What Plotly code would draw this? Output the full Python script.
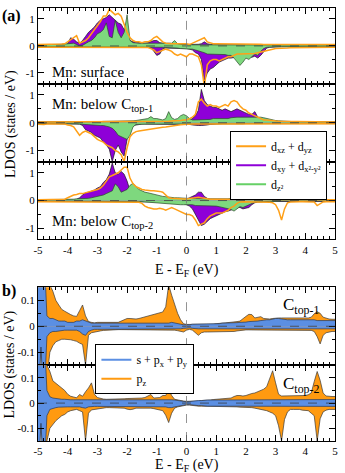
import numpy as np
import plotly.graph_objects as go

# ---------------- data ----------------
ENERGY = np.round(np.linspace(-5, 5, 101), 2)   # E - E_F grid (eV)
FERMI = 0.0

X_TICKS = [-5, -4, -3, -2, -1, 0, 1, 2, 3, 4, 5]
X_TICK_TEXT = ["-5", "-4", "-3", "-2", "-1", "0", "1", "2", "3", "4", "5"]
YA_TICKS = [-1, 0, 1]
YA_TICK_TEXT = ["-1", "0", "1"]
YB_TICKS = [-0.1, 0, 0.1]
YB_TICK_TEXT = ["-0.1", "0", "0.1"]

# ---- (a) Mn: surface
A1_PURPLE_UP = [
0.02,0.03,0.03,0.03,0.03,0.03,0.03,0.04,0.04,0.05,
0.08,0.30,0.25,0.15,0.10,0.20,0.35,0.50,0.60,0.70,
0.85,0.95,1.00,1.05,1.15,1.05,0.95,0.85,0.80,0.60,
0.30,0.20,0.15,0.15,0.12,0.10,0.10,0.12,0.15,0.20,
0.20,0.12,0.10,0.08,0.06,0.06,0.05,0.05,0.04,0.04,
0.04,0.05,0.05,0.05,0.06,0.08,0.15,0.08,0.05,0.04,
0.04,0.04,0.04,0.04,0.04,0.04,0.04,0.04,0.04,0.04,
0.04,0.04,0.03,0.03,0.03,0.03,0.03,0.03,0.03,0.03,
0.03,0.03,0.03,0.03,0.03,0.03,0.03,0.03,0.03,0.03,
0.03,0.03,0.03,0.03,0.03,0.03,0.03,0.03,0.03,0.03,
0.03]
A1_PURPLE_DN = [
-0.03,-0.03,-0.03,-0.03,-0.03,-0.03,-0.03,-0.03,-0.03,-0.03,
-0.03,-0.03,-0.03,-0.03,-0.03,-0.03,-0.03,-0.03,-0.03,-0.03,
-0.03,-0.03,-0.03,-0.03,-0.03,-0.03,-0.03,-0.03,-0.03,-0.03,
-0.03,-0.03,-0.03,-0.03,-0.03,-0.03,-0.03,-0.04,-0.05,-0.20,
-0.35,-0.30,-0.10,-0.08,-0.08,-0.08,-0.08,-0.08,-0.08,-0.08,
-0.10,-0.12,-0.15,-0.25,-0.30,-0.50,-1.30,-1.00,-0.85,-0.80,
-0.70,-0.60,-0.55,-0.50,-0.45,-0.45,-0.42,-0.40,-0.40,-0.38,
-0.36,-0.40,-0.42,-0.38,-0.45,-0.35,-0.20,-0.08,-0.05,-0.04,
-0.03,-0.03,-0.03,-0.03,-0.03,-0.03,-0.03,-0.03,-0.03,-0.03,
-0.03,-0.03,-0.03,-0.03,-0.03,-0.03,-0.03,-0.03,-0.03,-0.03,
-0.03]
A1_GREEN_UP = [
0.04,0.04,0.04,0.05,0.05,0.05,0.05,0.06,0.06,0.07,
0.08,0.10,0.10,0.05,0.00,0.02,0.10,0.15,0.20,0.30,
0.45,0.50,0.60,0.85,0.35,0.30,0.95,0.50,0.30,0.50,
1.15,0.20,0.12,0.10,0.10,0.10,0.10,0.10,0.10,0.12,
0.12,0.10,0.10,0.10,0.10,0.10,0.20,0.08,0.06,0.05,
0.05,0.04,0.04,0.04,0.04,0.04,0.04,0.04,0.04,0.04,
0.03,0.03,0.03,0.03,0.03,0.03,0.03,0.03,0.03,0.03,
0.03,0.03,0.03,0.03,0.03,0.03,0.03,0.03,0.03,0.03,
0.03,0.03,0.03,0.03,0.03,0.03,0.03,0.03,0.03,0.03,
0.03,0.03,0.03,0.03,0.03,0.03,0.03,0.03,0.03,0.03,
0.03]
A1_GREEN_DN = [
-0.03,-0.03,-0.03,-0.03,-0.03,-0.03,-0.03,-0.03,-0.03,-0.03,
-0.03,-0.03,-0.03,-0.03,-0.03,-0.03,-0.03,-0.03,-0.03,-0.03,
-0.03,-0.03,-0.03,-0.03,-0.03,-0.03,-0.03,-0.03,-0.03,-0.03,
-0.03,-0.03,-0.03,-0.03,-0.03,-0.03,-0.03,-0.03,-0.03,-0.03,
-0.04,-0.05,-0.05,-0.06,-0.06,-0.08,-0.08,-0.08,-0.10,-0.10,
-0.10,-0.12,-0.12,-0.15,-0.18,-0.20,-0.25,-0.30,-0.30,-0.30,
-0.30,-0.30,-0.32,-0.32,-0.35,-0.35,-0.45,-0.60,-0.72,-0.60,
-0.45,-0.50,-0.40,-0.30,-0.35,-0.20,-0.10,-0.05,-0.04,-0.03,
-0.03,-0.03,-0.03,-0.03,-0.03,-0.03,-0.03,-0.03,-0.03,-0.03,
-0.03,-0.03,-0.03,-0.03,-0.03,-0.03,-0.03,-0.03,-0.03,-0.03,
-0.03]
A1_ORANGE_UP = [
0.05,0.05,0.05,0.05,0.05,0.05,0.06,0.06,0.07,0.08,
0.15,0.25,0.30,0.38,0.10,0.15,0.20,0.30,0.45,0.60,
0.75,0.90,1.10,1.10,1.35,1.25,1.15,1.20,1.10,0.80,
0.50,0.30,0.20,0.15,0.15,0.12,0.15,0.15,0.20,0.30,
0.35,0.25,0.15,0.10,0.08,0.08,0.08,0.08,0.08,0.08,
0.08,0.05,0.10,0.15,0.20,0.25,0.30,0.15,0.10,0.08,
0.08,0.08,0.08,0.08,0.08,0.08,0.08,0.08,0.08,0.08,
0.08,0.07,0.07,0.06,0.06,0.06,0.05,0.05,0.05,0.05,
0.05,0.05,0.05,0.05,0.05,0.05,0.05,0.05,0.05,0.05,
0.05,0.05,0.05,0.05,0.05,0.05,0.05,0.05,0.05,0.05,
0.05]
A1_ORANGE_DN = [
-0.05,-0.05,-0.05,-0.05,-0.05,-0.05,-0.05,-0.05,-0.05,-0.05,
-0.05,-0.05,-0.05,-0.05,-0.05,-0.05,-0.05,-0.05,-0.05,-0.05,
-0.05,-0.05,-0.05,-0.05,-0.05,-0.05,-0.05,-0.05,-0.05,-0.05,
-0.05,-0.05,-0.05,-0.05,-0.05,-0.05,-0.05,-0.06,-0.10,-0.15,
-0.25,-0.20,-0.15,-0.12,-0.15,-0.20,-0.30,-0.35,-0.30,-0.35,
-0.40,-0.30,-0.30,-0.35,-0.40,-0.70,-1.50,-0.70,-0.55,-0.50,
-0.50,-0.55,-0.50,-0.45,-0.40,-0.40,-0.35,-0.30,-0.30,-0.30,
-0.30,-0.30,-0.30,-0.28,-0.25,-0.22,-0.20,-0.18,-0.15,-0.12,
-0.10,-0.10,-0.08,-0.08,-0.08,-0.07,-0.07,-0.06,-0.06,-0.06,
-0.05,-0.05,-0.05,-0.05,-0.05,-0.05,-0.05,-0.05,-0.05,-0.05,
-0.05]

# ---- (a) Mn: below C_top-1
A2_PURPLE_UP = [
0.03,0.03,0.03,0.03,0.03,0.03,0.03,0.03,0.03,0.03,
0.03,0.03,0.03,0.03,0.03,0.03,0.03,0.03,0.03,0.03,
0.03,0.03,0.03,0.03,0.03,0.03,0.03,0.03,0.03,0.03,
0.03,0.03,0.03,0.03,0.03,0.03,0.03,0.03,0.03,0.03,
0.03,0.03,0.03,0.03,0.03,0.03,0.03,0.03,0.03,0.03,
0.05,0.10,0.15,0.25,0.45,1.20,0.80,0.65,0.60,0.55,
0.55,0.50,0.45,0.50,0.45,0.40,0.45,0.50,0.45,0.40,
0.35,0.30,0.30,0.40,0.20,0.10,0.06,0.05,0.05,0.04,
0.04,0.04,0.03,0.03,0.03,0.03,0.03,0.03,0.03,0.03,
0.03,0.03,0.03,0.03,0.03,0.03,0.03,0.03,0.03,0.03,
0.03]
A2_PURPLE_DN = [
-0.03,-0.03,-0.03,-0.03,-0.03,-0.03,-0.03,-0.03,-0.03,-0.03,
-0.03,-0.03,-0.03,-0.04,-0.05,-0.10,-0.25,-0.30,-0.35,-0.45,
-0.50,-0.55,-0.70,-0.80,-0.95,-1.40,-1.00,-0.80,-1.05,-1.20,
-0.60,-0.20,-0.10,-0.08,-0.06,-0.05,-0.05,-0.05,-0.05,-0.05,
-0.05,-0.05,-0.05,-0.05,-0.05,-0.05,-0.05,-0.05,-0.05,-0.05,
-0.05,-0.06,-0.08,-0.10,-0.10,-0.10,-0.10,-0.08,-0.06,-0.05,
-0.03,-0.03,-0.03,-0.03,-0.03,-0.03,-0.03,-0.03,-0.03,-0.03,
-0.03,-0.03,-0.03,-0.03,-0.03,-0.03,-0.03,-0.03,-0.03,-0.03,
-0.03,-0.03,-0.03,-0.03,-0.03,-0.03,-0.03,-0.03,-0.03,-0.03,
-0.03,-0.03,-0.03,-0.03,-0.03,-0.03,-0.03,-0.03,-0.03,-0.03,
-0.03]
A2_GREEN_UP = [
0.02,0.02,0.02,0.02,0.02,0.02,0.02,0.02,0.02,0.02,
0.03,0.03,0.03,0.03,0.03,0.03,0.03,0.03,0.03,0.03,
0.04,0.04,0.05,0.05,0.05,0.05,0.05,0.05,0.05,0.05,
0.05,0.06,0.07,0.08,0.10,0.12,0.12,0.15,0.22,0.15,
0.15,0.12,0.10,0.15,0.40,0.18,0.12,0.15,0.25,0.30,
0.25,0.15,0.10,0.10,0.10,0.10,0.12,0.12,0.12,0.15,
0.15,0.15,0.15,0.15,0.15,0.18,0.20,0.20,0.20,0.20,
0.20,0.22,0.20,0.20,0.20,0.20,0.18,0.15,0.12,0.10,
0.08,0.07,0.06,0.05,0.05,0.04,0.04,0.04,0.03,0.03,
0.03,0.03,0.03,0.03,0.03,0.03,0.03,0.03,0.03,0.03,
0.03]
A2_GREEN_DN = [
-0.02,-0.02,-0.02,-0.02,-0.02,-0.02,-0.02,-0.02,-0.02,-0.02,
-0.02,-0.03,-0.03,-0.04,-0.05,-0.06,-0.06,-0.07,-0.08,-0.08,
-0.10,-0.10,-0.10,-0.12,-0.15,-0.20,-0.30,-0.45,-0.50,-0.55,
-0.60,-0.45,-0.15,-0.06,-0.05,-0.05,-0.05,-0.05,-0.05,-0.05,
-0.05,-0.05,-0.05,-0.05,-0.05,-0.05,-0.05,-0.05,-0.05,-0.05,
-0.05,-0.05,-0.05,-0.06,-0.06,-0.06,-0.06,-0.06,-0.06,-0.06,
-0.06,-0.06,-0.06,-0.05,-0.05,-0.05,-0.05,-0.04,-0.04,-0.04,
-0.03,-0.03,-0.03,-0.03,-0.03,-0.03,-0.03,-0.03,-0.03,-0.03,
-0.03,-0.03,-0.03,-0.03,-0.03,-0.03,-0.03,-0.03,-0.03,-0.03,
-0.03,-0.03,-0.03,-0.03,-0.03,-0.03,-0.03,-0.03,-0.03,-0.03,
-0.03]
A2_ORANGE_UP = [
0.03,0.03,0.03,0.03,0.03,0.03,0.03,0.03,0.03,0.03,
0.03,0.03,0.03,0.03,0.03,0.03,0.03,0.03,0.03,0.03,
0.03,0.03,0.03,0.03,0.03,0.03,0.03,0.03,0.03,0.03,
0.03,0.03,0.03,0.03,0.03,0.03,0.03,0.03,0.03,0.03,
0.04,0.04,0.05,0.05,0.05,0.06,0.06,0.07,0.08,0.10,
0.10,0.15,0.20,0.30,0.75,0.85,0.70,0.60,0.65,0.60,
0.60,0.55,0.60,0.65,0.60,0.75,0.80,0.75,0.60,0.50,
0.45,0.35,0.30,0.25,0.20,0.15,0.10,0.10,0.08,0.07,
0.06,0.05,0.05,0.05,0.04,0.04,0.04,0.04,0.04,0.04,
0.03,0.03,0.03,0.03,0.03,0.03,0.03,0.03,0.03,0.03,
0.03]
A2_ORANGE_DN = [
-0.05,-0.06,-0.06,-0.05,-0.05,-0.05,-0.05,-0.05,-0.05,-0.05,
-0.08,-0.10,-0.15,-0.30,-0.45,-0.35,-0.30,-0.35,-0.40,-0.50,
-0.60,-0.65,-0.70,-0.80,-0.85,-0.90,-1.00,-1.05,-1.15,-1.40,
-0.90,-0.50,-0.38,-0.32,-0.30,-0.28,-0.26,-0.25,-0.22,-0.20,
-0.20,-0.18,-0.16,-0.15,-0.13,-0.12,-0.10,-0.08,-0.07,-0.06,
-0.05,-0.05,-0.05,-0.05,-0.05,-0.05,-0.05,-0.05,-0.05,-0.05,
-0.04,-0.04,-0.04,-0.04,-0.04,-0.04,-0.04,-0.04,-0.04,-0.04,
-0.04,-0.04,-0.04,-0.04,-0.04,-0.04,-0.04,-0.04,-0.04,-0.04,
-0.04,-0.04,-0.04,-0.04,-0.04,-0.04,-0.04,-0.04,-0.04,-0.04,
-0.04,-0.04,-0.04,-0.04,-0.04,-0.04,-0.04,-0.04,-0.04,-0.04,
-0.04]

# ---- (a) Mn: below C_top-2
A3_PURPLE_UP = [
0.02,0.02,0.02,0.02,0.02,0.02,0.02,0.02,0.02,0.02,
0.02,0.02,0.03,0.05,0.10,0.20,0.28,0.30,0.33,0.38,
0.45,0.50,0.65,0.75,0.95,1.35,1.00,0.95,1.05,0.95,
0.70,0.35,0.20,0.15,0.12,0.10,0.10,0.10,0.10,0.10,
0.10,0.10,0.10,0.08,0.06,0.05,0.05,0.05,0.05,0.05,
0.05,0.10,0.15,0.20,0.30,0.30,0.15,0.08,0.05,0.05,
0.04,0.04,0.04,0.04,0.04,0.04,0.04,0.04,0.04,0.04,
0.03,0.03,0.03,0.03,0.03,0.03,0.03,0.03,0.03,0.03,
0.03,0.03,0.03,0.03,0.03,0.03,0.03,0.03,0.03,0.03,
0.03,0.03,0.03,0.03,0.03,0.03,0.03,0.03,0.03,0.03,
0.03]
A3_PURPLE_DN = [
-0.03,-0.03,-0.03,-0.03,-0.03,-0.03,-0.03,-0.03,-0.03,-0.03,
-0.03,-0.03,-0.03,-0.03,-0.03,-0.03,-0.03,-0.03,-0.03,-0.03,
-0.03,-0.03,-0.03,-0.03,-0.03,-0.03,-0.03,-0.03,-0.03,-0.03,
-0.03,-0.03,-0.03,-0.03,-0.03,-0.03,-0.03,-0.03,-0.03,-0.03,
-0.03,-0.03,-0.03,-0.03,-0.03,-0.05,-0.05,-0.06,-0.08,-0.10,
-0.15,-0.20,-0.30,-0.50,-0.70,-0.90,-0.85,-0.75,-0.65,-0.60,
-0.55,-0.50,-0.45,-0.40,-0.38,-0.35,-0.30,-0.25,-0.25,-0.30,
-0.28,-0.25,-0.15,-0.08,-0.05,-0.04,-0.03,-0.03,-0.03,-0.03,
-0.03,-0.03,-0.03,-0.03,-0.03,-0.03,-0.03,-0.03,-0.03,-0.03,
-0.03,-0.03,-0.03,-0.03,-0.03,-0.03,-0.03,-0.03,-0.03,-0.03,
-0.03]
A3_GREEN_UP = [
0.03,0.03,0.03,0.03,0.03,0.03,0.03,0.03,0.03,0.03,
0.04,0.05,0.05,0.06,0.06,0.07,0.08,0.08,0.10,0.12,
0.15,0.18,0.20,0.25,0.30,0.35,0.60,0.50,0.30,0.35,
0.40,0.55,0.62,0.50,0.40,0.35,0.30,0.28,0.25,0.22,
0.20,0.18,0.15,0.14,0.12,0.11,0.10,0.10,0.09,0.08,
0.08,0.08,0.07,0.07,0.06,0.06,0.06,0.06,0.06,0.05,
0.05,0.05,0.05,0.05,0.06,0.08,0.10,0.12,0.10,0.08,
0.06,0.05,0.04,0.04,0.04,0.03,0.03,0.03,0.03,0.03,
0.03,0.03,0.03,0.03,0.03,0.03,0.03,0.03,0.03,0.03,
0.03,0.03,0.03,0.03,0.03,0.03,0.03,0.03,0.03,0.03,
0.03]
A3_GREEN_DN = [
-0.02,-0.02,-0.02,-0.02,-0.02,-0.02,-0.02,-0.02,-0.02,-0.02,
-0.02,-0.02,-0.02,-0.02,-0.02,-0.02,-0.02,-0.02,-0.02,-0.02,
-0.02,-0.02,-0.02,-0.02,-0.02,-0.02,-0.02,-0.02,-0.02,-0.02,
-0.03,-0.03,-0.03,-0.03,-0.03,-0.04,-0.05,-0.06,-0.07,-0.08,
-0.08,-0.09,-0.10,-0.10,-0.11,-0.12,-0.13,-0.15,-0.15,-0.15,
-0.15,-0.15,-0.15,-0.18,-0.18,-0.20,-0.20,-0.20,-0.20,-0.20,
-0.20,-0.22,-0.25,-0.28,-0.30,-0.32,-0.38,-0.30,-0.22,-0.25,
-0.20,-0.15,-0.10,-0.06,-0.05,-0.04,-0.03,-0.03,-0.03,-0.03,
-0.02,-0.02,-0.02,-0.02,-0.02,-0.02,-0.02,-0.02,-0.02,-0.02,
-0.02,-0.02,-0.02,-0.02,-0.02,-0.02,-0.02,-0.02,-0.02,-0.02,
-0.02]
A3_ORANGE_UP = [
0.03,0.03,0.03,0.03,0.03,0.03,0.03,0.03,0.04,0.05,
0.10,0.15,0.20,0.22,0.25,0.25,0.28,0.30,0.33,0.36,
0.40,0.45,0.55,0.70,0.85,0.90,0.95,1.00,1.10,1.20,
1.20,0.80,0.60,0.50,0.45,0.40,0.38,0.36,0.35,0.35,
0.35,0.33,0.30,0.20,0.10,0.08,0.07,0.06,0.06,0.06,
0.06,0.07,0.08,0.10,0.12,0.10,0.08,0.06,0.05,0.05,
0.05,0.05,0.05,0.05,0.05,0.05,0.05,0.05,0.05,0.05,
0.04,0.04,0.04,0.04,0.04,0.04,0.04,0.04,0.04,0.04,
0.03,0.03,0.03,0.03,0.03,0.03,0.03,0.03,0.03,0.03,
0.03,0.03,0.03,0.03,0.03,0.03,0.03,0.03,0.03,0.03,
0.03]
A3_ORANGE_DN = [
-0.04,-0.04,-0.04,-0.04,-0.04,-0.04,-0.04,-0.04,-0.04,-0.04,
-0.04,-0.04,-0.04,-0.04,-0.04,-0.04,-0.04,-0.04,-0.04,-0.04,
-0.04,-0.04,-0.04,-0.04,-0.04,-0.05,-0.05,-0.05,-0.05,-0.05,
-0.05,-0.05,-0.05,-0.05,-0.06,-0.10,-0.20,-0.25,-0.28,-0.30,
-0.30,-0.28,-0.30,-0.35,-0.30,-0.25,-0.30,-0.35,-0.40,-0.45,
-0.50,-0.50,-0.55,-0.70,-0.90,-0.85,-0.80,-0.65,-0.55,-0.50,
-0.45,-0.45,-0.45,-0.40,-0.35,-0.25,-0.20,-0.10,-0.05,-0.04,
-0.04,-0.04,-0.04,-0.04,-0.04,-0.04,-0.04,-0.05,-0.06,-0.08,
-0.15,-0.35,-0.70,-0.30,-0.08,-0.05,-0.04,-0.04,-0.04,-0.04,
-0.04,-0.04,-0.04,-0.05,-0.18,-0.10,-0.05,-0.04,-0.04,-0.04,
-0.04]

# ---- (b) C_top-1
B1_ORANGE_UP = [
0.30,0.30,0.30,0.20,0.160,0.135,0.100,0.082,0.065,0.058,
0.050,0.045,0.040,0.038,0.060,0.082,0.040,0.018,0.015,0.013,
0.015,0.015,0.015,0.015,0.015,0.015,0.015,0.015,0.020,0.025,
0.030,0.030,0.028,0.028,0.030,0.033,0.037,0.040,0.042,0.045,
0.048,0.050,0.055,0.075,0.160,0.120,0.085,0.050,0.025,0.010,
0.007,0.007,0.008,0.008,0.008,0.008,0.008,0.008,0.008,0.008,
0.010,0.010,0.012,0.013,0.014,0.014,0.016,0.018,0.020,0.030,
0.038,0.046,0.045,0.032,0.035,0.037,0.030,0.028,0.028,0.030,
0.032,0.032,0.032,0.032,0.032,0.032,0.032,0.032,0.032,0.032,
0.032,0.032,0.035,0.048,0.056,0.050,0.035,0.030,0.028,0.027,
0.027]
B1_ORANGE_DN = [
-0.30,-0.06,-0.30,-0.20,-0.100,-0.075,-0.060,-0.055,-0.050,-0.050,
-0.050,-0.052,-0.055,-0.058,-0.065,-0.070,-0.150,-0.035,-0.025,-0.022,
-0.020,-0.018,-0.016,-0.015,-0.014,-0.014,-0.013,-0.013,-0.013,-0.013,
-0.013,-0.013,-0.013,-0.013,-0.013,-0.013,-0.013,-0.013,-0.013,-0.013,
-0.013,-0.014,-0.014,-0.015,-0.015,-0.015,-0.015,-0.017,-0.020,-0.022,
-0.015,-0.012,-0.015,-0.025,-0.035,-0.025,-0.022,-0.022,-0.022,-0.022,
-0.022,-0.022,-0.022,-0.022,-0.020,-0.020,-0.020,-0.018,-0.016,-0.015,
-0.014,-0.014,-0.014,-0.014,-0.014,-0.014,-0.014,-0.014,-0.014,-0.014,
-0.014,-0.014,-0.014,-0.014,-0.014,-0.014,-0.014,-0.014,-0.014,-0.014,
-0.014,-0.014,-0.016,-0.020,-0.040,-0.068,-0.035,-0.025,-0.022,-0.020,
-0.020]
B1_BLUE_UP = [
0.30,0.30,0.30,0.040,0.030,0.030,0.025,0.020,0.020,0.020,
0.015,0.015,0.015,0.020,0.020,0.025,0.020,0.015,0.012,0.012,
0.012,0.012,0.012,0.012,0.012,0.012,0.012,0.012,0.012,0.012,
0.012,0.012,0.012,0.012,0.012,0.012,0.012,0.012,0.012,0.012,
0.012,0.012,0.012,0.012,0.012,0.015,0.012,0.010,0.008,0.006,
0.005,0.006,0.008,0.008,0.008,0.010,0.010,0.010,0.010,0.010,
0.010,0.010,0.012,0.012,0.012,0.012,0.014,0.014,0.015,0.015,
0.016,0.018,0.018,0.020,0.020,0.022,0.024,0.025,0.025,0.028,
0.030,0.030,0.028,0.025,0.025,0.025,0.025,0.025,0.025,0.025,
0.025,0.025,0.025,0.025,0.022,0.022,0.022,0.022,0.022,0.022,
0.022]
B1_BLUE_DN = [
-0.30,-0.08,-0.30,-0.040,-0.025,-0.020,-0.020,-0.018,-0.016,-0.015,
-0.015,-0.015,-0.015,-0.015,-0.020,-0.030,-0.035,-0.020,-0.015,-0.012,
-0.012,-0.012,-0.012,-0.012,-0.012,-0.012,-0.012,-0.012,-0.012,-0.012,
-0.012,-0.012,-0.012,-0.012,-0.012,-0.012,-0.012,-0.012,-0.012,-0.012,
-0.012,-0.012,-0.012,-0.012,-0.012,-0.012,-0.010,-0.010,-0.010,-0.008,
-0.006,-0.006,-0.008,-0.010,-0.010,-0.010,-0.010,-0.010,-0.010,-0.010,
-0.010,-0.010,-0.010,-0.010,-0.010,-0.010,-0.010,-0.010,-0.010,-0.010,
-0.010,-0.010,-0.010,-0.010,-0.010,-0.010,-0.010,-0.010,-0.010,-0.010,
-0.010,-0.010,-0.010,-0.010,-0.010,-0.010,-0.010,-0.010,-0.010,-0.010,
-0.010,-0.010,-0.010,-0.010,-0.010,-0.010,-0.010,-0.010,-0.010,-0.010,
-0.010]

# ---- (b) C_top-2
B2_ORANGE_UP = [
0.30,0.30,0.30,0.150,0.125,0.088,0.078,0.068,0.060,0.050,
0.035,0.027,0.024,0.021,0.034,0.027,0.045,0.060,0.080,0.035,
0.022,0.018,0.016,0.015,0.015,0.015,0.015,0.016,0.016,0.017,
0.018,0.018,0.018,0.018,0.019,0.020,0.022,0.027,0.034,0.020,
0.020,0.022,0.030,0.030,0.054,0.030,0.015,0.012,0.010,0.008,
0.007,0.007,0.008,0.008,0.008,0.010,0.010,0.012,0.012,0.014,
0.015,0.016,0.016,0.016,0.018,0.020,0.026,0.030,0.030,0.028,
0.030,0.035,0.038,0.040,0.045,0.050,0.055,0.065,0.100,0.128,
0.080,0.035,0.028,0.028,0.028,0.028,0.028,0.028,0.028,0.028,
0.030,0.033,0.040,0.085,0.125,0.090,0.040,0.028,0.026,0.026,
0.026]
B2_ORANGE_DN = [
-0.30,-0.06,-0.30,-0.150,-0.100,-0.085,-0.070,-0.060,-0.050,-0.045,
-0.035,-0.030,-0.027,-0.025,-0.030,-0.035,-0.150,-0.040,-0.027,-0.025,
-0.022,-0.020,-0.020,-0.018,-0.018,-0.018,-0.018,-0.018,-0.018,-0.020,
-0.024,-0.026,-0.024,-0.020,-0.020,-0.020,-0.020,-0.018,-0.020,-0.022,
-0.024,-0.025,-0.030,-0.048,-0.077,-0.040,-0.020,-0.015,-0.012,-0.010,
-0.008,-0.008,-0.010,-0.012,-0.012,-0.012,-0.012,-0.012,-0.012,-0.012,
-0.012,-0.012,-0.012,-0.012,-0.012,-0.013,-0.014,-0.015,-0.016,-0.016,
-0.017,-0.018,-0.018,-0.020,-0.022,-0.025,-0.025,-0.030,-0.035,-0.040,
-0.050,-0.090,-0.150,-0.065,-0.035,-0.025,-0.025,-0.025,-0.025,-0.028,
-0.030,-0.030,-0.040,-0.050,-0.150,-0.062,-0.035,-0.028,-0.025,-0.025,
-0.025]
B2_BLUE_UP = [
0.30,0.30,0.30,0.050,0.025,0.020,0.018,0.015,0.015,0.015,
0.013,0.013,0.013,0.013,0.013,0.013,0.013,0.013,0.013,0.013,
0.013,0.013,0.013,0.013,0.013,0.013,0.013,0.013,0.013,0.013,
0.013,0.013,0.013,0.013,0.013,0.013,0.013,0.013,0.013,0.013,
0.013,0.013,0.013,0.013,0.015,0.013,0.012,0.010,0.008,0.006,
0.005,0.006,0.008,0.010,0.010,0.010,0.012,0.012,0.012,0.012,
0.013,0.013,0.013,0.013,0.013,0.013,0.013,0.013,0.013,0.013,
0.014,0.014,0.014,0.014,0.014,0.014,0.014,0.014,0.014,0.014,
0.014,0.014,0.014,0.014,0.014,0.014,0.014,0.014,0.014,0.014,
0.014,0.014,0.014,0.014,0.014,0.014,0.014,0.014,0.014,0.014,
0.014]
B2_BLUE_DN = [
-0.30,-0.08,-0.30,-0.050,-0.025,-0.020,-0.018,-0.016,-0.015,-0.015,
-0.015,-0.015,-0.015,-0.015,-0.015,-0.018,-0.020,-0.015,-0.013,-0.013,
-0.013,-0.013,-0.013,-0.013,-0.013,-0.013,-0.013,-0.013,-0.013,-0.013,
-0.013,-0.013,-0.013,-0.013,-0.013,-0.013,-0.013,-0.013,-0.013,-0.013,
-0.013,-0.013,-0.013,-0.015,-0.018,-0.018,-0.015,-0.012,-0.010,-0.008,
-0.006,-0.006,-0.008,-0.010,-0.010,-0.010,-0.012,-0.012,-0.012,-0.012,
-0.012,-0.012,-0.012,-0.012,-0.012,-0.012,-0.012,-0.012,-0.012,-0.012,
-0.013,-0.013,-0.013,-0.013,-0.013,-0.013,-0.013,-0.013,-0.013,-0.013,
-0.013,-0.013,-0.013,-0.013,-0.013,-0.013,-0.013,-0.013,-0.013,-0.013,
-0.013,-0.013,-0.013,-0.013,-0.013,-0.013,-0.013,-0.013,-0.013,-0.013,
-0.013]

_bad = [k for k, v in list(globals().items())
        if k[:2] in ("A1", "A2", "A3", "B1", "B2") and isinstance(v, list) and len(v) != len(ENERGY)]
if _bad:
    raise ValueError("bad lengths: " + ", ".join(f"{k}={len(globals()[k])}" for k in _bad))

# ---------------- style ----------------
SERIF = "Liberation Serif"
PURPLE = "#8E00D8"
GREEN = "#7ED87E"
ORANGE = "#FFA018"
BLUE = "#5B8FE3"
FILL_ORANGE = "#FF9A10"
EDGE = "#1a1a1a"

W, H = 345, 473
ML, MR, MT, MB = 38, 7, 7, 32
PW, PH = W - ML - MR, H - MT - MB


def pxx(p):
    return (p - ML) / PW


def pyy(p):
    return (H - MB - p) / PH


ROWS = [(7, 83), (83, 161), (161, 239), (287, 365), (365, 441)]

fig = go.Figure()


def ax(i):
    return ("x" if i == 1 else f"x{i}"), ("y" if i == 1 else f"y{i}")


def add_fill(i, y, fillc, linec, lw=0.7):
    xa, ya = ax(i)
    fig.add_trace(go.Scatter(x=ENERGY, y=y, mode="lines", fill="tozeroy",
                             fillcolor=fillc, line=dict(color=linec, width=lw),
                             xaxis=xa, yaxis=ya, showlegend=False, hoverinfo="skip"))


def add_line(i, y, c, lw=1.5):
    xa, ya = ax(i)
    fig.add_trace(go.Scatter(x=ENERGY, y=y, mode="lines", line=dict(color=c, width=lw),
                             xaxis=xa, yaxis=ya, showlegend=False, hoverinfo="skip"))


A_SETS = [
    (A1_PURPLE_UP, A1_PURPLE_DN, A1_GREEN_UP, A1_GREEN_DN, A1_ORANGE_UP, A1_ORANGE_DN),
    (A2_PURPLE_UP, A2_PURPLE_DN, A2_GREEN_UP, A2_GREEN_DN, A2_ORANGE_UP, A2_ORANGE_DN),
    (A3_PURPLE_UP, A3_PURPLE_DN, A3_GREEN_UP, A3_GREEN_DN, A3_ORANGE_UP, A3_ORANGE_DN),
]
for k, (pu, pd, gu, gd, ou, od) in enumerate(A_SETS):
    i = k + 1
    add_fill(i, pu, PURPLE, EDGE)
    add_fill(i, pd, PURPLE, EDGE)
    add_fill(i, gu, GREEN, "#2a4a2a")
    add_fill(i, gd, GREEN, "#2a4a2a")
    add_line(i, ou, ORANGE)
    add_line(i, od, ORANGE)

B_SETS = [
    (B1_ORANGE_UP, B1_ORANGE_DN, B1_BLUE_UP, B1_BLUE_DN),
    (B2_ORANGE_UP, B2_ORANGE_DN, B2_BLUE_UP, B2_BLUE_DN),
]
for k, (ou, od, bu, bd) in enumerate(B_SETS):
    i = k + 4
    add_fill(i, ou, FILL_ORANGE, "#3a3a3a")
    add_fill(i, od, FILL_ORANGE, "#3a3a3a")
    add_fill(i, bu, BLUE, "#2a3a55")
    add_fill(i, bd, BLUE, "#2a3a55")

# legend entries
for name, c, lg in [
    ("d<sub>xz</sub> + d<sub>yz</sub>", ORANGE, "legend"),
    ("d<sub>xy</sub> + d<sub>x²-y²</sub>", PURPLE, "legend"),
    ("d<sub>z²</sub>", "#66D066", "legend"),
    ("s + p<sub>x</sub> + p<sub>y</sub>", BLUE, "legend2"),
    ("p<sub>z</sub>", FILL_ORANGE, "legend2"),
]:
    fig.add_trace(go.Scatter(x=[None], y=[None], mode="lines", name=name,
                             line=dict(color=c, width=2), legend=lg, showlegend=True))

tickfont = dict(family=SERIF, size=11, color="black")
layout = dict(
    width=W, height=H, margin=dict(l=ML, r=MR, t=MT, b=MB),
    paper_bgcolor="white", plot_bgcolor="white", showlegend=True,
    font=dict(family=SERIF, color="black"),
)
shapes = []
for i, (top, bot) in enumerate(ROWS, start=1):
    sfx = "" if i == 1 else str(i)
    is_a = i <= 3
    layout[f"xaxis{sfx}"] = dict(
        domain=[0, 1], anchor=f"y{sfx}", range=[-5, 5],
        tickvals=X_TICKS, ticktext=X_TICK_TEXT, showticklabels=(i in (3, 5)),
        ticks="inside", ticklen=6, tickwidth=1, tickcolor="black",
        minor=dict(dtick=0.2, tick0=0, ticks="inside", ticklen=3, tickcolor="black", tickwidth=1),
        showline=True, linecolor="black", linewidth=1, mirror="ticks",
        showgrid=False, zeroline=False, tickfont=tickfont,
    )
    layout[f"yaxis{sfx}"] = dict(
        domain=[pyy(bot), pyy(top)], anchor=f"x{sfx}",
        range=[-1.4, 1.4] if is_a else [-0.15, 0.15],
        tickvals=YA_TICKS if is_a else YB_TICKS,
        ticktext=YA_TICK_TEXT if is_a else YB_TICK_TEXT,
        ticks="inside", ticklen=6, tickwidth=1, tickcolor="black",
        minor=dict(dtick=0.5 if is_a else 0.05, ticks="inside", ticklen=3,
                   tickcolor="black", tickwidth=1),
        showline=True, linecolor="black", linewidth=1, mirror="ticks",
        showgrid=False, zeroline=False, tickfont=tickfont,
    )
    shapes.append(dict(type="line", xref=f"x{sfx} domain", x0=0, x1=1, yref=f"y{sfx}",
                       y0=0, y1=0, line=dict(color="#333", width=0.7, dash="dash"), layer="above"))
    shapes.append(dict(type="line", xref=f"x{sfx}", x0=FERMI, x1=FERMI, yref=f"y{sfx} domain",
                       y0=0, y1=1, line=dict(color="#777", width=0.8, dash="dash"), layer="above"))
layout["shapes"] = shapes

layout["legend"] = dict(x=pxx(232), y=pyy(130), xanchor="left", yanchor="top",
                        bgcolor="white", bordercolor="black", borderwidth=1,
                        font=dict(family=SERIF, size=12, color="black"), itemwidth=30,
                        tracegroupgap=0)
layout["legend2"] = dict(x=pxx(96), y=pyy(344), xanchor="left", yanchor="top",
                         bgcolor="white", bordercolor="black", borderwidth=1,
                         font=dict(family=SERIF, size=12, color="black"), itemwidth=30,
                         tracegroupgap=0)

ann = []


def text(t, x, y, size, xanchor="left", yanchor="middle", angle=0):
    ann.append(dict(text=t, x=x, y=y, xref="paper", yref="paper", showarrow=False,
                    xanchor=xanchor, yanchor=yanchor, textangle=angle,
                    font=dict(family=SERIF, size=size, color="black")))


text("<b>(a)</b>", pxx(0), pyy(15), 16)
text("<b>b)</b>", pxx(0), pyy(291), 16)
text("Mn: surface", pxx(50), pyy(61), 15, yanchor="top")
text("Mn: below C<sub>top-1</sub>", pxx(50), pyy(93), 15, yanchor="top")
text("Mn: below C<sub>top-2</sub>", pxx(50), pyy(210), 15, yanchor="top")
text("C<sub>top-1</sub>", pxx(283), pyy(293), 17, yanchor="top")
text("C<sub>top-2</sub>", pxx(283), pyy(372), 17, yanchor="top")
text("LDOS (states / eV)", pxx(10), pyy(123), 14, xanchor="center", angle=-90)
text("LDOS (states / eV)", pxx(10), pyy(364), 14, xanchor="center", angle=-90)
text("E - E<sub>F</sub> (eV)", pxx(188), pyy(270), 14, xanchor="center")
text("E - E<sub>F</sub> (eV)", pxx(188), pyy(466), 14, xanchor="center")
layout["annotations"] = ann

fig.update_layout(**layout)
fig.write_html("out.html")
